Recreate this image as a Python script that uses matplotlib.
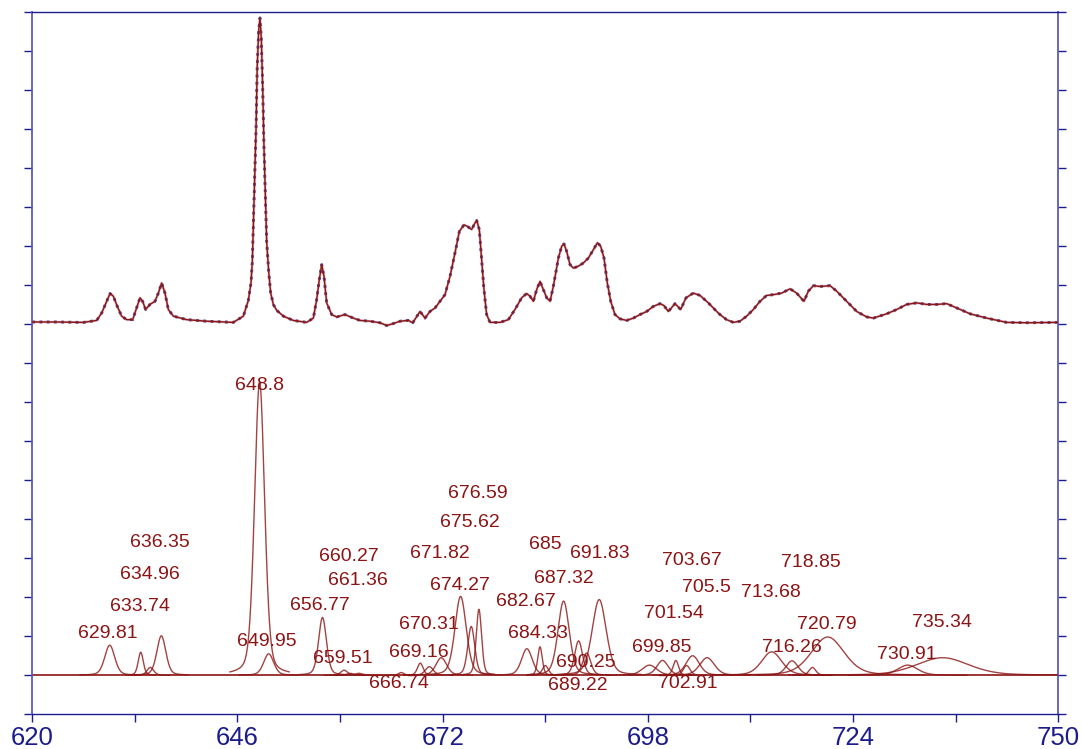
import numpy as np
import matplotlib
matplotlib.use("Agg")
import matplotlib.pyplot as plt

# fitted components (lower panel): label, centre, height, FWHM
peak_labels = ['629.81', '633.74', '634.96', '636.35', '648.8', '649.95', '656.77',
               '659.51', '660.27', '661.36', '666.74', '669.16', '670.31', '671.82',
               '674.27', '675.62', '676.59', '682.67', '684.33', '685', '687.32',
               '689.22', '690.25', '691.83', '699.85', '701.54', '702.91', '703.67',
               '705.5', '713.68', '716.26', '718.85', '720.79', '730.91', '735.34']
peak_center = [629.81, 633.74, 634.96, 636.35, 648.8, 649.95, 656.77,
               659.51, 660.27, 661.36, 666.74, 669.16, 670.31, 671.82,
               674.27, 675.62, 676.59, 682.67, 684.33, 685.0, 687.32,
               689.22, 690.25, 691.83, 699.85, 701.54, 702.91, 703.67,
               705.5, 713.68, 716.26, 718.85, 720.79, 730.91, 735.34]
peak_height = [0.77, 0.59, 0.20, 1.01, 7.52, 0.55, 1.48,
               0.13, 0.05, 0.05, 0.07, 0.31, 0.22, 0.45,
               2.02, 1.25, 1.69, 0.68, 0.73, 0.25, 1.90,
               0.88, 0.57, 1.94, 0.38, 0.38, 0.25, 0.50,
               0.45, 0.60, 0.37, 0.20, 0.98, 0.26, 0.45]
peak_fwhm = [1.5, 0.76, 1.0, 1.35, 1.5, 1.5, 1.18,
             1.0, 1.0, 1.2, 0.8, 0.85, 1.2, 1.6,
             1.69, 1.05, 0.8, 1.6, 0.68, 0.9, 1.69,
             1.18, 1.2, 2.1, 1.7, 0.8, 1.0, 2.0,
             2.2, 3.0, 1.8, 1.0, 4.9, 3.0, 7.8]
# unlabelled broad component
extra_center = [698.2]
extra_height = [0.26]
extra_fwhm = [2.2]

# measured spectrum / fit (upper trace), height above its own baseline
upper_wl = [620.0, 623.0, 626.47, 628.16, 628.79, 629.34, 629.85, 630.27, 630.77, 631.32,
            631.96, 632.72, 633.22, 633.65, 633.98, 634.36, 634.91, 635.55, 635.97, 636.39,
            636.81, 637.24, 637.87, 639.56, 642.09, 645.47, 646.74, 647.37, 647.71, 647.88,
            648.09, 648.35, 648.5, 648.68, 648.85, 649.02, 649.2, 649.36, 649.57, 649.7,
            649.95, 650.2, 650.54, 650.96, 651.81, 653.07, 654.76, 655.61, 656.03, 656.37,
            656.67, 656.96, 657.3, 657.93, 658.57, 659.62, 660.68, 661.52, 662.79, 664.06,
            664.9, 665.75, 666.59, 667.65, 668.2, 669.13, 669.76, 670.39, 671.03, 671.66,
            672.29, 672.93, 673.56, 674.11, 674.7, 675.12, 675.67, 676.1, 676.31, 676.64,
            676.94, 677.23, 677.57, 678.0, 679.26, 680.32, 681.16, 682.01, 682.64, 683.06,
            683.49, 683.91, 684.33, 684.75, 685.18, 685.6, 686.02, 686.66, 687.08, 687.37,
            687.71, 688.13, 688.56, 689.19, 689.82, 690.46, 691.09, 691.6, 692.02, 692.44,
            692.86, 693.29, 693.83, 694.47, 695.31, 696.16, 697.0, 697.85, 698.69, 699.54,
            700.04, 700.59, 701.44, 702.15, 702.83, 703.76, 704.61, 705.66, 706.72, 707.14,
            707.98, 708.83, 709.67, 710.52, 711.36, 712.21, 713.05, 713.9, 714.95, 716.01,
            716.85, 717.78, 718.33, 718.97, 719.81, 721.08, 721.92, 723.19, 724.46, 725.72,
            726.57, 728.26, 729.53, 730.79, 732.06, 733.33, 734.59, 735.86, 737.13, 738.82,
            740.93, 743.46, 746.0, 750.0]
upper_val = [0.05, 0.05, 0.04, 0.09, 0.28, 0.54, 0.78, 0.71, 0.45, 0.20,
             0.11, 0.11, 0.41, 0.67, 0.58, 0.37, 0.50, 0.58, 0.79, 1.05,
             0.79, 0.37, 0.20, 0.11, 0.07, 0.04, 0.20, 0.60, 1.05, 1.6,
             3.1, 5.0, 6.6, 7.5, 7.84, 7.3, 6.0, 4.5, 3.0, 2.1,
             1.35, 0.8, 0.5, 0.35, 0.20, 0.09, 0.04, 0.15, 0.62, 1.14,
             1.52, 1.22, 0.54, 0.24, 0.18, 0.24, 0.15, 0.09, 0.07, 0.03,
             -0.04, 0.01, 0.07, 0.09, 0.03, 0.32, 0.15, 0.32, 0.41, 0.58,
             0.75, 1.22, 1.82, 2.37, 2.54, 2.50, 2.42, 2.59, 2.65, 2.42,
             1.65, 0.88, 0.24, 0.04, 0.04, 0.11, 0.37, 0.67, 0.78, 0.71,
             0.58, 0.88, 1.09, 0.88, 0.67, 0.58, 0.96, 1.69, 1.99, 2.05,
             1.86, 1.52, 1.43, 1.48, 1.56, 1.69, 1.90, 2.08, 1.99, 1.69,
             1.05, 0.58, 0.24, 0.13, 0.09, 0.15, 0.24, 0.32, 0.45, 0.52,
             0.47, 0.32, 0.52, 0.37, 0.67, 0.79, 0.73, 0.54, 0.32, 0.24,
             0.11, 0.04, 0.07, 0.20, 0.37, 0.58, 0.73, 0.75, 0.79, 0.90,
             0.79, 0.58, 0.84, 0.98, 0.96, 0.98, 0.84, 0.58, 0.32, 0.18,
             0.15, 0.26, 0.37, 0.50, 0.54, 0.50, 0.50, 0.52, 0.41, 0.26,
             0.15, 0.04, 0.03, 0.04]

x_ticks = [620, 633, 646, 659, 672, 685, 698, 711, 724, 737, 750]
x_tick_labels = ['620', '', '646', '', '672', '', '698', '', '724', '', '750']

# layout: label anchor (centre) in data coords
label_pos = [(629.6, 1.06), (633.65, 1.75), (634.9, 2.59), (636.2, 3.39), (648.8, 7.42),
             (649.74, 0.86), (656.46, 1.78), (659.4, 0.44), (660.1, 3.03), (661.27, 2.44),
             (666.46, -0.22), (669.0, 0.58), (670.2, 1.29), (671.66, 3.13), (674.2, 2.31),
             (675.4, 3.92), (676.48, 4.66), (682.49, 1.89), (684.08, 1.06), (684.96, 3.34),
             (687.3, 2.49), (689.06, -0.27), (690.16, 0.32), (691.87, 3.13), (699.73, 0.70),
             (701.25, 1.57), (703.0, -0.20), (703.6, 2.93), (705.4, 2.24), (713.54, 2.13),
             (716.26, 0.70), (718.6, 2.9), (720.62, 1.31), (730.76, 0.52), (735.3, 1.34)]
upper_offset = 9.0

red = '#8b1414'
navy = '#1c1c8c'
plt.rcParams['font.family'] = ['Liberation Sans', 'DejaVu Sans']


def pvoigt(x, c, h, w, eta=0.3):
    g = np.exp(-4 * np.log(2) * (x - c) ** 2 / w ** 2)
    lor = 1.0 / (1.0 + (2 * (x - c) / w) ** 2)
    return h * (eta * lor + (1 - eta) * g)


fig = plt.figure(figsize=(10.81, 7.49), dpi=100)
ax = fig.add_axes([0.02988, 0.04633, 0.9491, 0.9381])

# upper trace: data dots + fit
uw = np.array(upper_wl)
uv = np.array(upper_val) + upper_offset
ax.plot(uw, uv, color=navy, lw=2.0, ls=(0, (1, 1.6)), zorder=2)
ax.plot(uw, uv, color='#c07070', lw=1.8, alpha=0.5, zorder=3)
ax.plot(uw, uv, color=red, lw=1.0, zorder=4)

# lower: baseline + components
ax.plot([620, 750], [0, 0], color=red, lw=1.2, zorder=2)
centers = peak_center + extra_center
heights = peak_height + extra_height
widths = peak_fwhm + extra_fwhm
for c, h, w in zip(centers, heights, widths):
    xs = np.linspace(c - 2.5 * w, c + 2.5 * w, 200)
    ax.plot(xs, pvoigt(xs, c, h, w), color=red, lw=1.0, alpha=0.8, zorder=3)

for lab, (lx, ly) in zip(peak_labels, label_pos):
    ax.text(lx, ly, lab, ha='center', va='center', fontsize=14, color=red, zorder=5)

ax.set_xlim(620, 750)
ax.set_ylim(-1, 17)
ax.set_xticks(x_ticks)
ax.set_xticklabels(x_tick_labels)
ax.set_yticks(range(-1, 18))
ax.tick_params(axis='y', left=True, right=True, labelleft=False, direction='out',
               length=6, width=1.0, color=navy)
ax.tick_params(axis='x', direction='out', length=5.5, width=1.0, color=navy,
               labelsize=18.5, labelcolor=navy, pad=3)
for s in ['top', 'bottom']:
    ax.spines[s].set_color(navy)
    ax.spines[s].set_linewidth(1.0)
for s in ['left', 'right']:
    ax.spines[s].set_color('#5a5ab8')
    ax.spines[s].set_linewidth(1.3)

fig.savefig('out.png', dpi=100)
